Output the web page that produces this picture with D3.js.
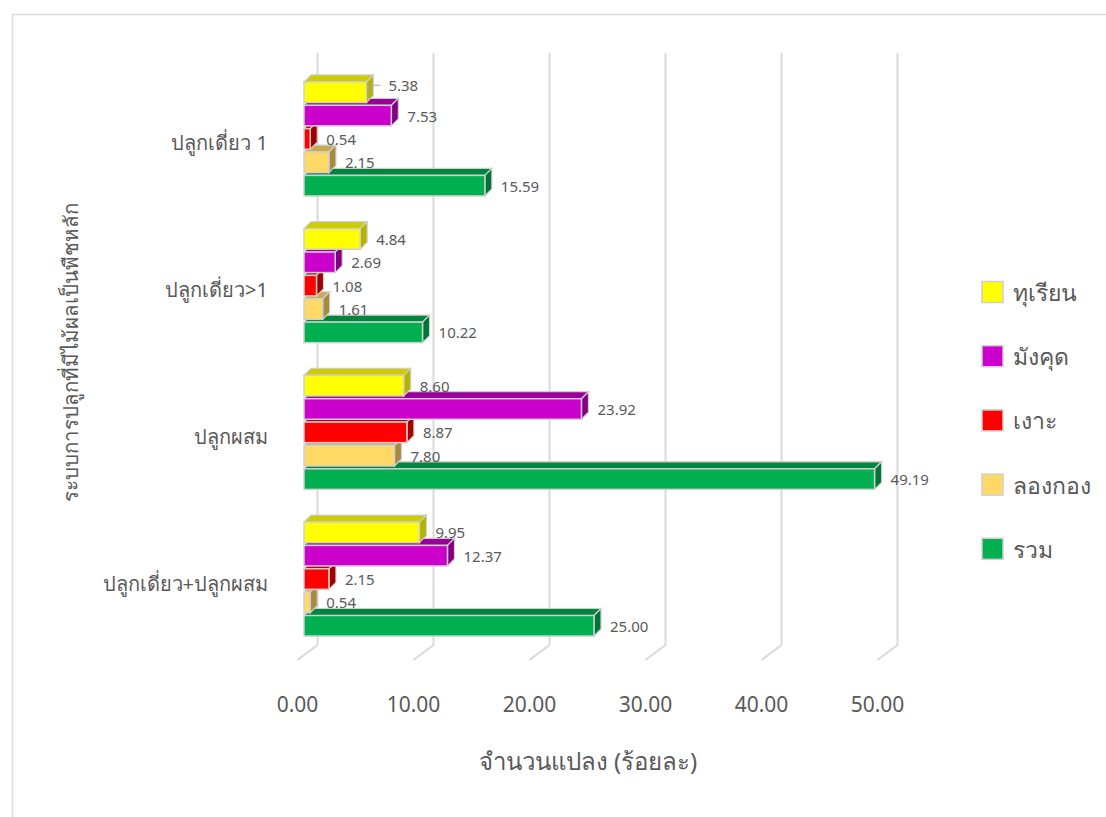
<!DOCTYPE html>
<html>
<head>
<meta charset="utf-8">
<script src="https://cdn.jsdelivr.net/npm/d3@7"></script>
<style>
  html, body { margin: 0; padding: 0; background: #fff; }
  svg { display: block; font-family: "Noto Sans", "Open Sans", sans-serif; }
</style>
</head>
<body>
<svg id="chart" width="1106" height="817"></svg>
<script>
// ---- data ----
const categories = ["ปลูกเดี่ยว 1", "ปลูกเดี่ยว>1", "ปลูกผสม", "ปลูกเดี่ยว+ปลูกผสม"];
const seriesNames = ["ทุเรียน", "มังคุด", "เงาะ", "ลองกอง", "รวม"];
const durian    = [5.38, 4.84, 8.60, 9.95];
const mangosteen = [7.53, 2.69, 23.92, 12.37];
const rambutan  = [0.54, 1.08, 8.87, 2.15];
const longkong  = [2.15, 1.61, 7.80, 0.54];
const total     = [15.59, 10.22, 49.19, 25.00];
const seriesValues = [durian, mangosteen, rambutan, longkong, total];
const xTicks = [0, 10, 20, 30, 40, 50];
const xTitle = "จำนวนแปลง (ร้อยละ)";
const yTitle = "ระบบการปลูกที่มีไม้ผลเป็นพืชหลัก";

// ---- styles ----
const colors = {
  front: ["#FFFF00", "#CC00CC", "#FF0000", "#FFD966", "#00B050"],
  top:   ["#CCCC00", "#990099", "#BF0000", "#C9A955", "#00853C"],
  side:  ["#B3B300", "#800080", "#A00000", "#A68A40", "#007434"]
};
const textColor = "#595959";
const gridColor = "#d9d9d9";
const outline = "#cfcfcf";
const labelNudge = { "0|0": [6, -7] };

const svg = d3.select("#chart");

// chart border
svg.append("rect")
  .attr("x", 12.5).attr("y", 14.5)
  .attr("width", 1120).attr("height", 830)
  .attr("fill", "#fff").attr("stroke", gridColor).attr("stroke-width", 1.5);

const x = d3.scaleLinear().domain([0, 50]).range([304, 884]);
const y0 = d3.scaleBand().domain(categories).range([65.6, 652.4]).paddingInner(0.223).paddingOuter(0.1115);
const y1 = d3.scaleBand().domain(seriesNames).range([0, y0.bandwidth()]).paddingInner(0.12);

const dX = 7, dY = -7;       // bar depth
const wX = 13.5;             // back wall offset
const gTop = 53, gBot = 645, fX = -20, fY = 15;

// gridlines (back wall + floor)
const grid = svg.append("g");
xTicks.forEach(t => {
  const xb = x(t) + wX;
  grid.append("path")
    .attr("d", `M${xb},${gTop}L${xb},${gBot}L${xb + fX},${gBot + fY}`)
    .attr("fill", "none").attr("stroke", gridColor).attr("stroke-width", 2);
});

// tick labels
svg.append("g").selectAll("text").data(xTicks).join("text")
  .attr("x", t => x(t) + wX + fX)
  .attr("y", 704)
  .attr("text-anchor", "middle")
  .attr("dominant-baseline", "central")
  .attr("font-size", 21)
  .attr("fill", textColor)
  .text(t => d3.format(".2f")(t));

// category labels
svg.append("g").selectAll("text").data(categories).join("text")
  .attr("x", 268)
  .attr("y", c => y0(c) + y0.bandwidth() / 2 + 4)
  .attr("text-anchor", "end")
  .attr("dominant-baseline", "central")
  .attr("font-size", 20)
  .attr("fill", textColor)
  .text(c => c);

// bars: draw bottom series first so upper bars overlap
const bars = svg.append("g");
categories.forEach((c, ci) => {
  for (let si = seriesNames.length - 1; si >= 0; si--) {
    const v = seriesValues[si][ci];
    const xa = x(0), xb = x(v);
    const ya = y0(c) + y1(seriesNames[si]);
    const yb = ya + y1.bandwidth();
    const g = bars.append("g");
    g.append("path")
      .attr("d", `M${xa},${ya}L${xa + dX},${ya + dY}L${xb + dX},${ya + dY}L${xb},${ya}Z`)
      .attr("fill", colors.top[si]).attr("stroke", outline).attr("stroke-width", 1.2);
    g.append("path")
      .attr("d", `M${xb},${ya}L${xb + dX},${ya + dY}L${xb + dX},${yb + dY}L${xb},${yb}Z`)
      .attr("fill", colors.side[si]).attr("stroke", outline).attr("stroke-width", 1.2);
    g.append("rect")
      .attr("x", xa).attr("y", ya)
      .attr("width", xb - xa).attr("height", yb - ya)
      .attr("fill", colors.front[si]).attr("stroke", outline).attr("stroke-width", 1.5);
  }
});

// data labels
const labels = svg.append("g");
categories.forEach((c, ci) => {
  seriesNames.forEach((s, si) => {
    const v = seriesValues[si][ci];
    const nudge = labelNudge[ci + "|" + si] || [0, 0];
    const lx = x(v) + 16 + nudge[0];
    const ly = y0(c) + y1(s) + y1.bandwidth() / 2 + nudge[1];
    if (nudge[0] || nudge[1]) {
      labels.append("path")
        .attr("d", `M${x(v) + 2},${ly + 8}L${x(v) + 2},${ly}L${lx - 8},${ly}`)
        .attr("fill", "none").attr("stroke", "#a6a6a6").attr("stroke-width", 1);
    }
    labels.append("text")
      .attr("x", lx).attr("y", ly)
      .attr("dominant-baseline", "central")
      .attr("font-size", 15)
      .attr("fill", textColor)
      .text(d3.format(".2f")(v));
  });
});

// axis titles
svg.append("text")
  .attr("x", 588).attr("y", 760)
  .attr("text-anchor", "middle")
  .attr("dominant-baseline", "central")
  .attr("font-size", 24)
  .attr("fill", textColor)
  .text(xTitle);

svg.append("text")
  .attr("transform", "translate(70,352) rotate(-90)")
  .attr("text-anchor", "middle")
  .attr("dominant-baseline", "central")
  .attr("font-size", 20.5)
  .attr("fill", textColor)
  .text(yTitle);

// legend
const leg = svg.append("g");
seriesNames.forEach((s, i) => {
  const cy = 292 + i * 64.2;
  leg.append("rect")
    .attr("x", 982).attr("y", cy - 10.5)
    .attr("width", 21).attr("height", 21)
    .attr("fill", colors.front[i]).attr("stroke", outline).attr("stroke-width", 1.5);
  leg.append("text")
    .attr("x", 1013).attr("y", cy)
    .attr("dominant-baseline", "central")
    .attr("font-size", 23)
    .attr("fill", textColor)
    .text(s);
});
</script>
</body>
</html>
